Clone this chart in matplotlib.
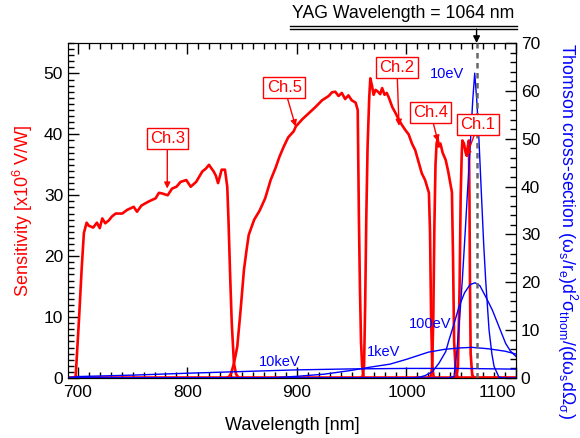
import numpy as np
import matplotlib
matplotlib.use('Agg')
import matplotlib.pyplot as plt
from matplotlib.ticker import MultipleLocator
from matplotlib.lines import Line2D

plt.rcParams['font.family'] = ['Liberation Sans', 'DejaVu Sans']
plt.rcParams['mathtext.fontset'] = 'custom'
plt.rcParams['mathtext.rm'] = 'Liberation Sans'
plt.rcParams['mathtext.it'] = 'Liberation Sans'
plt.rcParams['mathtext.default'] = 'regular'

# filter channel sensitivities [x10^6 V/W]
ch3_wl = [691, 696, 698, 701, 703.5, 705.5, 708, 710, 714, 717.4, 720, 722.3, 725, 728.4, 731, 734.5,
          740.5, 745, 751, 754, 758, 761.8, 766, 771, 774, 777, 782, 786, 790, 793.8, 799, 803, 808,
          813.6, 817, 819.7, 822, 824, 826, 828, 831.3, 834.3, 836.4, 837.5, 839, 840.5, 842.5, 844.5,
          847, 850, 1100]
ch3_val = [0, 0, 0.3, 9.5, 18, 23.8, 25.5, 25, 24.7, 25.5, 24.6, 26.2, 25.4, 25.9, 26.5, 27,
           27, 27.6, 28.1, 27.3, 28.3, 28.7, 29.1, 29.5, 30.4, 30.3, 30, 31.1, 31.4, 32.2, 32.5, 31.4, 32.2,
           33.9, 34.4, 35, 34.4, 33.9, 33.2, 32, 34.2, 34.2, 31.4, 26, 17, 9, 2.4, 0.6,
           0, 0, 0]

ch5_wl = [691, 835, 838, 840, 842.5, 845.5, 848.5, 851.6, 854, 856, 861, 866, 871, 876, 880.5, 884,
          888, 892, 897, 899, 905, 911, 917, 923, 929, 932, 935, 938, 941, 944, 947, 950, 953.6,
          955.5, 956.6, 957.5, 958.5, 959.5, 961, 1100]
ch5_val = [0, 0, 0.2, 0.8, 2.4, 5.1, 11, 17.7, 21, 23.5, 26, 27.5, 29.5, 32.5, 34.5, 36.3,
           38, 39.5, 40.5, 41.3, 42.5, 43.5, 44.5, 45.6, 46.3, 46.9, 47, 46.3, 46.8, 45.8, 46.4, 45.6, 45.2,
           44, 26, 15, 6, 2, 0, 0]

ch2_wl = [691, 958, 960, 961.3, 962.3, 963.3, 964.5, 966, 967, 968.5, 970, 971.8, 974, 976, 977.8,
          980, 982, 984, 987, 990, 993, 996, 999, 1002, 1005, 1008, 1011, 1014, 1017, 1020.5,
          1021.5, 1022.5, 1023.5, 1025, 1100]
ch2_val = [0, 0, 0.3, 2, 12, 26, 38, 46, 49.2, 48, 46.5, 47.3, 47, 46.6, 47.6,
           46.5, 46.8, 46, 44.5, 43.5, 42.4, 41.5, 40.7, 40, 38.5, 37.4, 35.5, 33.6, 32.5, 30.4,
           24, 10, 2, 0, 0]

ch4_wl = [691, 1021, 1022.5, 1023.5, 1024.5, 1025.5, 1026.5, 1027.5, 1028.5, 1029.5, 1031, 1033,
          1035.8, 1038, 1040, 1041.5, 1042.5, 1043.5, 1045, 1047, 1100]
ch4_val = [0, 0, 0.5, 2, 10, 25, 35, 38.5, 39.3, 38, 38.5, 37,
           35.8, 34, 32, 30.5, 20, 6, 1, 0, 0]

ch1_wl = [691, 1044, 1046, 1047, 1048.5, 1049.5, 1050.5, 1051, 1052.5, 1054, 1055, 1056, 1057,
          1057.5, 1058, 1058.6, 1060, 1062, 1100]
ch1_val = [0, 0, 0.5, 2, 15, 30, 37, 39, 38.5, 37, 36.5, 38, 39,
           30, 15, 4, 0.5, 0, 0]

channels = [(ch3_wl, ch3_val), (ch5_wl, ch5_val), (ch2_wl, ch2_val), (ch4_wl, ch4_val), (ch1_wl, ch1_val)]

# Thomson spectra, right axis
te10ev_wl = [691, 1038, 1043.4, 1046.4, 1049, 1051, 1053.5, 1056, 1058.5, 1060.5, 1062.3, 1064.2,
             1066.2, 1068.5, 1070.5, 1072.3, 1075.4, 1078, 1080, 1084.5, 1090, 1100]
te10ev_val = [0, 0, 0.3, 6.5, 14, 20.5, 30, 40, 49.7, 58, 63.7, 58,
              49.7, 38, 28, 20.5, 10, 5, 2.4, 0.15, 0, 0]

te100ev_wl = [691, 990, 1005, 1011.4, 1017, 1023.6, 1029.7, 1035.8, 1038.8, 1043, 1048, 1053, 1058,
              1062.6, 1067, 1072.3, 1078.4, 1084.5, 1090.6, 1095, 1100]
te100ev_val = [0, 0, 0.05, 0.15, 0.5, 1.3, 3.1, 5.5, 7.9, 11, 14.9, 17.8, 19.5,
               19.9, 19.3, 17, 14.2, 10.7, 7.2, 5.6, 4.5]

te1kev_wl = [691, 860, 880, 900, 925, 950, 965, 985, 1000, 1020, 1035, 1050, 1060, 1075, 1090, 1100]
te1kev_val = [0, 0, 0.1, 0.35, 0.8, 1.6, 2.2, 2.9, 3.9, 5.4, 6.0, 6.3, 6.4, 6.1, 5.6, 5.0]

te10kev_wl = [691, 700, 750, 800, 850, 900, 950, 1000, 1050, 1100]
te10kev_val = [0.1, 0.3, 0.6, 1.0, 1.35, 1.7, 1.9, 2.0, 2.0, 1.85]

spectra = [(te10ev_wl, te10ev_val), (te100ev_wl, te100ev_val), (te1kev_wl, te1kev_val),
           (te10kev_wl, te10kev_val)]

# labels: (text, label x, label y, tip x, tip y) in left-axis data units
ch_labels = [('Ch.3', 781.7, 39.3, 781.6, 31.1),
             ('Ch.5', 888.5, 47.7, 898.8, 41.3),
             ('Ch.2', 991.3, 51.0, 993.2, 41.4),
             ('Ch.4', 1022.0, 43.6, 1028.8, 38.8),
             ('Ch.1', 1065.4, 41.6, 1054.6, 36.3)]
te_labels = [('10eV', 1037, 63.5), ('100eV', 1021.3, 11.3), ('1keV', 979.5, 5.5), ('10keV', 884.3, 3.3)]

x_ticks = [700, 800, 900, 1000, 1100]
yag_wl = 1064

fig = plt.figure(figsize=(5.8, 4.38), dpi=100)
ax = fig.add_axes([68 / 580, 60 / 438, 448 / 580, 335 / 438])
ax2 = ax.twinx()

for wl, val in channels:
    ax.plot(wl, val, color='red', lw=1.9, solid_joinstyle='round')

for wl, val in spectra:
    ax2.plot(wl, val, color='blue', lw=1.0)

ax2.axvline(yag_wl, color='#666666', lw=1.8, ls=(0, (2.2, 1.8)), zorder=3)

ax.set_xticks(x_ticks)
ax.xaxis.set_minor_locator(MultipleLocator(10))
ax.yaxis.set_major_locator(MultipleLocator(10))
ax.yaxis.set_minor_locator(MultipleLocator(1))
ax2.yaxis.set_major_locator(MultipleLocator(10))
ax2.yaxis.set_minor_locator(MultipleLocator(2))

ax.set_xlim(691, 1100)
ax2.set_xlim(691, 1100)
ax.set_ylim(0, 55)
ax2.set_ylim(0, 70)

ax.tick_params(which='both', direction='in', top=True, right=False, labelsize=12.5, width=1.0)
ax.tick_params(which='major', length=8)
ax.tick_params(which='minor', length=4)
ax.tick_params(axis='x', pad=5)
ax2.tick_params(which='both', direction='in', labelsize=12.5, width=1.0)
ax2.tick_params(which='major', length=8)
ax2.tick_params(which='minor', length=4)

# last x label sits left of its tick so it clears the right-axis "0"
ax.xaxis.get_major_ticks()[-1].label1.set_horizontalalignment('right')

ax.set_xlabel('Wavelength [nm]', fontsize=13, labelpad=12)
ax.set_ylabel('Sensitivity [x10$^6$ V/W]', fontsize=13, color='red', labelpad=6)
ax2.set_ylabel(r'Thomson cross-section $(\omega_s/r_e)d^2\sigma_{thom}/(d\omega_s d\Omega_\sigma)$',
               fontsize=12.8, color='blue', rotation=270, va='center')
ax2.yaxis.set_label_coords(1.115, 0.44)

for text, xt, yt, xp, yp in ch_labels:
    ax2.annotate(text, xy=(xp, yp), xycoords=ax.transData,
                 xytext=(xt, yt), textcoords=ax.transData,
                 color='red', fontsize=12, ha='center', va='center', zorder=10,
                 bbox=dict(boxstyle='square,pad=0.2', fc='white', ec='red', lw=1.0),
                 arrowprops=dict(arrowstyle='-|>', color='red', lw=1.0, mutation_scale=9,
                                 shrinkA=0, shrinkB=0))

for text, xt, yt in te_labels:
    ax2.text(xt, yt, text, color='blue', fontsize=10.5, ha='center', va='center', zorder=9)

# YAG marker above the frame
fig.text(403 / 580, 1 - 14 / 438, 'YAG Wavelength = 1064 nm', fontsize=12.7, ha='center', va='center')
fig.add_artist(Line2D([290 / 580, 517 / 580], [1 - 26 / 438, 1 - 26 / 438], color='black', lw=1.0))
fig.add_artist(Line2D([290 / 580, 517 / 580], [1 - 29 / 438, 1 - 29 / 438], color='black', lw=1.0))
ax2.annotate('', xy=(yag_wl, 1.0), xycoords=('data', 'axes fraction'),
             xytext=(yag_wl, 1.0 + 14 / 335), textcoords=('data', 'axes fraction'),
             arrowprops=dict(arrowstyle='-|>', color='black', lw=1.0, mutation_scale=10,
                             shrinkA=0, shrinkB=0), annotation_clip=False)

fig.savefig('out.png', dpi=100)
